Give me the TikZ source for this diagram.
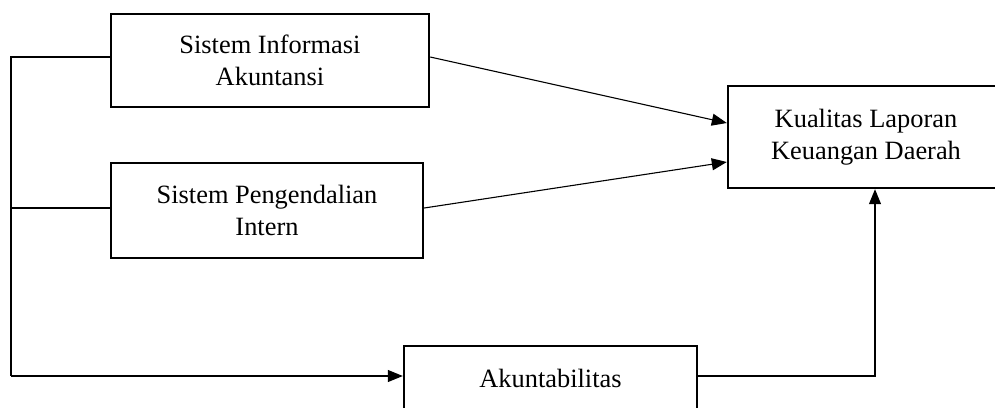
\documentclass[tikz,border=0pt]{standalone}
\usepackage{fontspec}
\setmainfont{Liberation Serif}
\usetikzlibrary{arrows.meta}
\begin{document}
\begin{tikzpicture}[x=1pt,y=-1pt,
  box/.style={draw,line width=2.4pt,rectangle,inner sep=0pt,align=center,
    font=\fontsize{26.4}{32}\selectfont},
  conn/.style={line width=1.1pt},
  arr/.style={conn,-{Triangle[length=15pt,width=12pt]}}]
\useasboundingbox (0,0) rectangle (995,407);
\clip (0,0) rectangle (995,407);
\node[box,minimum width=318pt,minimum height=93pt] (sia) at (270,60.5) {Sistem Informasi\\Akuntansi};
\node[box,minimum width=312pt,minimum height=95pt] (spi) at (267,210.5) {Sistem Pengendalian\\Intern};
\node[box,minimum width=276pt,minimum height=102pt] (klk) at (866,137) {Kualitas Laporan\\Keuangan Daerah};
\node[box,minimum width=293pt,minimum height=64pt] (akt) at (550.5,378) {Akuntabilitas};
\coordinate (L1) at (11,57);
\coordinate (L2) at (11,208);
\coordinate (L3) at (11,376);
\coordinate (R) at (875,376);
\coordinate (T1) at (728,123);
\coordinate (T2) at (728,162);
\draw[conn] (sia.west |- L1) -- (L1) -- (L3);
\draw[conn] (L2) -- (spi.west |- L2);
\draw[arr] (L3) -- (akt.west |- L3);
\draw[arr] (akt.east |- R) -- (R) -- (klk.south -| R);
\draw[arr] (sia.east |- L1) -- (klk.west |- T1);
\draw[arr] (spi.east |- L2) -- (klk.west |- T2);
\end{tikzpicture}
\end{document}
